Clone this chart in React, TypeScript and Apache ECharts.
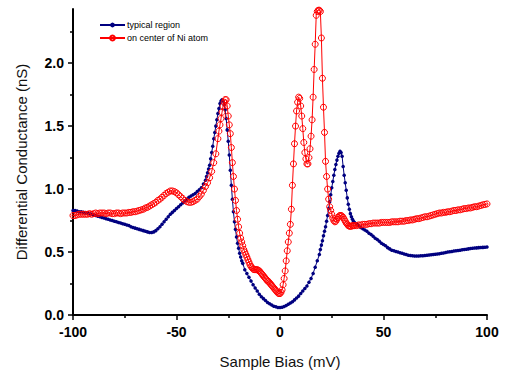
import React, { useEffect, useRef } from "react";
import * as echarts from "echarts";

const FONT = "'Liberation Sans', Arial, Helvetica, sans-serif";

// sampling grid helper (bias positions in mV)
function grid(a: number, b: number, step: number): number[] {
  const out: number[] = [];
  for (let i = 0; a + i * step <= b + 1e-9; i++) out.push(+(a + i * step).toFixed(2));
  return out;
}

// ---------- "on center of Ni atom" (red) ----------
const redBias = [...grid(-100, -31, 1), ...grid(-30, 36, 0.5), ...grid(37, 100, 1)];
const redCondA = [
  0.79, 0.79, 0.795, 0.8, 0.8, 0.8, 0.8, 0.8, 0.805, 0.8,
  0.805, 0.81, 0.805, 0.81, 0.81, 0.81, 0.805, 0.81, 0.81, 0.805,
  0.805, 0.81, 0.81, 0.805, 0.81, 0.81, 0.81, 0.815, 0.815, 0.82,
  0.82, 0.825, 0.83, 0.835, 0.84, 0.85, 0.855, 0.865, 0.875, 0.885,
  0.895, 0.91, 0.92, 0.935, 0.95, 0.965, 0.975, 0.985, 0.985, 0.98,
  0.97, 0.955, 0.94, 0.925, 0.91, 0.9, 0.895, 0.895, 0.9, 0.91,
  0.92, 0.94, 0.96, 0.99, 1.02, 1.05, 1.09, 1.14, 1.21, 1.28,
];
const redCondB = [
  1.4, 1.46, 1.51, 1.56, 1.61, 1.66, 1.69, 1.71, 1.71, 1.66,
  1.58, 1.51, 1.44, 1.33, 1.21, 1.1, 1.0, 0.91, 0.83, 0.76,
  0.7, 0.65, 0.61, 0.58, 0.55, 0.52, 0.5, 0.48, 0.46, 0.44,
  0.42, 0.4, 0.385, 0.375, 0.365, 0.36, 0.36, 0.36, 0.36, 0.355,
  0.35, 0.34, 0.33, 0.32, 0.31, 0.3, 0.29, 0.28, 0.27, 0.265,
  0.255, 0.245, 0.235, 0.225, 0.215, 0.205, 0.195, 0.185, 0.175, 0.17,
  0.17, 0.18, 0.2, 0.24, 0.29, 0.35, 0.43, 0.51, 0.58, 0.65,
  0.72, 0.84, 1.03, 1.2, 1.36, 1.5, 1.62, 1.69, 1.73, 1.72,
  1.66, 1.58, 1.48, 1.37, 1.29, 1.24, 1.2, 1.2, 1.25, 1.32,
  1.42, 1.55, 1.73, 1.95, 2.15, 2.38, 2.41, 2.42, 2.42, 2.41,
  2.2, 1.88, 1.65, 1.45, 1.22, 1.1, 1.0, 0.92, 0.86, 0.83,
  0.8, 0.77, 0.75, 0.74, 0.745, 0.76, 0.775, 0.785, 0.79, 0.79,
  0.785, 0.775, 0.76, 0.745, 0.73, 0.72, 0.71, 0.705, 0.705, 0.705,
  0.71, 0.71, 0.71,
];
const redCondC = [
  0.71, 0.715, 0.715, 0.72, 0.72, 0.72, 0.725, 0.725, 0.73, 0.73,
  0.73, 0.73, 0.735, 0.735, 0.735, 0.735, 0.735, 0.74, 0.74, 0.74,
  0.74, 0.745, 0.745, 0.745, 0.75, 0.75, 0.755, 0.755, 0.76, 0.765,
  0.765, 0.77, 0.775, 0.78, 0.78, 0.785, 0.79, 0.795, 0.8, 0.805,
  0.81, 0.81, 0.815, 0.815, 0.82, 0.82, 0.825, 0.83, 0.83, 0.835,
  0.835, 0.84, 0.845, 0.845, 0.85, 0.85, 0.855, 0.86, 0.86, 0.865,
  0.87, 0.875, 0.878, 0.882,
];
const redCond = [...redCondA, ...redCondB, ...redCondC];

// ---------- "typical region" (blue) ----------
const blueBias = [
  ...grid(-100, -36, 1),
  ...grid(-35.5, -18, 0.5),
  ...grid(-17, 19, 1),
  ...grid(19.5, 36, 0.5),
  ...grid(37, 100, 1),
];
const blueCondA = [
  0.83, 0.83, 0.825, 0.82, 0.82, 0.815, 0.81, 0.81, 0.805, 0.8,
  0.795, 0.79, 0.785, 0.78, 0.775, 0.77, 0.765, 0.76, 0.755, 0.75,
  0.745, 0.74, 0.735, 0.73, 0.725, 0.72, 0.715, 0.71, 0.7, 0.695,
  0.69, 0.685, 0.68, 0.675, 0.67, 0.665, 0.66, 0.655, 0.655, 0.66,
  0.67, 0.685, 0.7, 0.72, 0.74, 0.76, 0.78, 0.8, 0.815, 0.83,
  0.845, 0.86, 0.875, 0.89, 0.905, 0.92, 0.935, 0.945, 0.955, 0.965,
  0.98, 0.995, 1.01, 1.04, 1.07,
];
const blueCondB = [
  1.1, 1.13, 1.16, 1.19, 1.24, 1.29, 1.34, 1.4, 1.45, 1.5,
  1.55, 1.6, 1.64, 1.68, 1.7, 1.71, 1.7, 1.67, 1.63, 1.56,
  1.47, 1.38, 1.27, 1.15, 1.03, 0.92, 0.82, 0.74, 0.68, 0.62,
  0.57, 0.53, 0.49, 0.46, 0.43, 0.41,
];
const blueCondC = [
  0.36, 0.33, 0.3, 0.27, 0.24, 0.215, 0.19, 0.165, 0.145, 0.13,
  0.115, 0.1, 0.09, 0.08, 0.07, 0.065, 0.06, 0.06, 0.062, 0.067,
  0.075, 0.085, 0.095, 0.105, 0.12, 0.135, 0.15, 0.17, 0.19, 0.21,
  0.23, 0.26, 0.29, 0.33, 0.38, 0.43, 0.48,
];
const blueCondD = [
  0.52, 0.555, 0.59, 0.63, 0.665, 0.7, 0.745, 0.79, 0.845, 0.9,
  0.955, 1.01, 1.06, 1.11, 1.155, 1.195, 1.23, 1.26, 1.285, 1.3,
  1.29, 1.26, 1.18, 1.11, 1.05, 0.99, 0.93, 0.88, 0.84, 0.805,
  0.78, 0.76, 0.745, 0.735,
];
const blueCondE = [
  0.725, 0.71, 0.695, 0.685, 0.675, 0.665, 0.65, 0.64, 0.625, 0.61,
  0.6, 0.585, 0.57, 0.56, 0.55, 0.535, 0.525, 0.515, 0.51, 0.505,
  0.5, 0.495, 0.49, 0.485, 0.48, 0.475, 0.472, 0.47, 0.468, 0.468,
  0.468, 0.47, 0.47, 0.472, 0.474, 0.476, 0.478, 0.48, 0.482, 0.485,
  0.487, 0.49, 0.493, 0.496, 0.5, 0.502, 0.505, 0.508, 0.51, 0.512,
  0.515, 0.518, 0.52, 0.522, 0.525, 0.528, 0.53, 0.532, 0.533, 0.535,
  0.536, 0.537, 0.538, 0.54,
];
const blueCond = [...blueCondA, ...blueCondB, ...blueCondC, ...blueCondD, ...blueCondE];

const seriesNames = ["typical region", "on center of Ni atom"];
const xTicks = [-100, -50, 0, 50, 100];
const yMajor = [0, 0.5, 1.0, 1.5, 2.0];
const yMinor = [0.25, 0.75, 1.25, 1.75, 2.25];
const xLabel = "Sample Bias (mV)";
const yLabel = "Differential Conductance (nS)";

function zip(xs: number[], ys: number[]): number[][] {
  const n = Math.min(xs.length, ys.length);
  const out: number[][] = [];
  for (let i = 0; i < n; i++) out.push([xs[i], ys[i]]);
  return out;
}

export default function App() {
  const ref = useRef<HTMLDivElement>(null);
  useEffect(() => {
    if (!ref.current) return;
    const chart = echarts.init(ref.current, null, { renderer: "svg" });
    const axisCol = "#000";
    chart.setOption({
      animation: false,
      backgroundColor: "#fff",
      textStyle: { fontFamily: FONT },
      grid: { left: 73, right: 18, top: 9, bottom: 62 },
      legend: {
        orient: "vertical",
        left: 99,
        top: 20,
        padding: 0,
        itemWidth: 25,
        itemHeight: 6,
        itemGap: 3,
        textStyle: { fontSize: 9, color: "#000", fontFamily: FONT, padding: [0, 0, 0, -3], lineHeight: 10 },
        data: seriesNames,
      },
      xAxis: {
        type: "value",
        min: xTicks[0],
        max: xTicks[xTicks.length - 1],
        interval: 50,
        axisLine: { show: true, onZero: false, lineStyle: { color: axisCol, width: 2 } },
        axisTick: { show: true, length: 5, lineStyle: { color: axisCol, width: 1.5 } },
        minorTick: { show: true, splitNumber: 2, length: 3, lineStyle: { color: axisCol, width: 1.5 } },
        splitLine: { show: false },
        axisLabel: { color: "#000", fontWeight: "bold", fontSize: 14, margin: 10, fontFamily: FONT },
        name: xLabel,
        nameLocation: "middle",
        nameGap: 39,
        nameTextStyle: { fontSize: 15, color: "#111", fontFamily: FONT },
      },
      yAxis: [
        {
          type: "value",
          min: 0,
          max: 2.43,
          axisLine: { show: true, onZero: false, lineStyle: { color: axisCol, width: 2 } },
          axisTick: { show: true, length: 5, customValues: yMajor, lineStyle: { color: axisCol, width: 1.5 } },
          splitLine: { show: false },
          axisLabel: {
            customValues: yMajor,
            formatter: (v: number) => v.toFixed(1),
            color: "#000",
            fontWeight: "bold",
            fontSize: 14,
            margin: 9,
            fontFamily: FONT,
          },
          name: yLabel,
          nameLocation: "middle",
          nameGap: 44,
          nameTextStyle: { fontSize: 15, color: "#111", fontFamily: FONT },
        },
        {
          type: "value",
          min: 0,
          max: 2.43,
          position: "left",
          axisLine: { show: false, onZero: false },
          axisTick: { show: true, length: 3, customValues: yMinor, lineStyle: { color: axisCol, width: 1.5 } },
          axisLabel: { show: false },
          splitLine: { show: false },
        },
      ],
      series: [
        {
          name: seriesNames[0],
          type: "line",
          data: zip(blueBias, blueCond),
          symbol: "circle",
          symbolSize: 3.5,
          showAllSymbol: true,
          itemStyle: { color: "#000080" },
          lineStyle: { color: "#000080", width: 1 },
          z: 2,
        },
        {
          name: seriesNames[1],
          type: "line",
          data: zip(redBias, redCond),
          symbol: "circle",
          symbolSize: 6,
          showAllSymbol: true,
          itemStyle: { color: "rgba(255,255,255,0)", borderColor: "#ff0000", borderWidth: 1 },
          lineStyle: { color: "#ff0000", width: 1 },
          z: 3,
        },
      ],
    });
    return () => chart.dispose();
  }, []);
  return (
    <div
      ref={ref}
      style={{ position: "absolute", left: 0, top: 0, width: 505, height: 377, background: "#fff" }}
    />
  );
}
